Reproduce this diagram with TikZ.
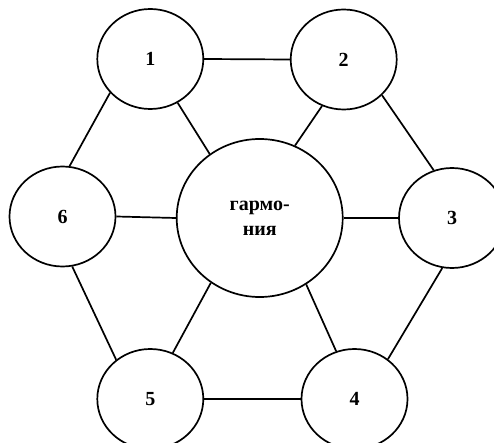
\documentclass[tikz,border=0pt]{standalone}
\usepackage{fontspec}
\setmainfont{Liberation Serif}
\usetikzlibrary{shapes.geometric}
\begin{document}
\begin{tikzpicture}[x=1bp,y=-1bp,
  ring/.style={ellipse,draw,line width=1.7bp,minimum width=106bp,minimum height=100bp,inner sep=0pt,
     font=\fontsize{20bp}{24.7bp}\selectfont\bfseries},
  hub/.style={ring,minimum width=166bp,minimum height=158bp,align=center},
  link/.style={line width=1.7bp}]
\useasboundingbox (0,0) rectangle (494,443);
\clip (0,0) rectangle (494,443);
\node[ring] (n1) at (150.3,59) {1};
\node[ring] (n2) at (343.7,59.5) {2};
\node[ring] (n3) at (452,218) {3};
\node[ring] (n4) at (354.5,399) {4};
\node[ring] (n5) at (150.3,399) {5};
\node[ring] (n6) at (62.5,216.5) {6};
\node[hub] (c) at (259.7,218) {гармо-\\ния};
\draw[link] (n1.east) -- (n2.west);
\draw[link] (n1.220) -- (n6.82);
\draw[link] (n1.302) -- (c.128);
\draw[link] (n2.245) -- (c.64);
\draw[link] (n2.317) -- (n3.111);
\draw[link] (n6.east) -- (c.west);
\draw[link] (c.east) -- (n3.west);
\draw[link] (n6.281) -- (n5.131);
\draw[link] (n5.64) -- (c.233);
\draw[link] (n4.111.5) -- (c.305);
\draw[link] (n3.259.5) -- (n4.50);
\draw[link] (n5.east) -- (n4.west);
\end{tikzpicture}
\end{document}
